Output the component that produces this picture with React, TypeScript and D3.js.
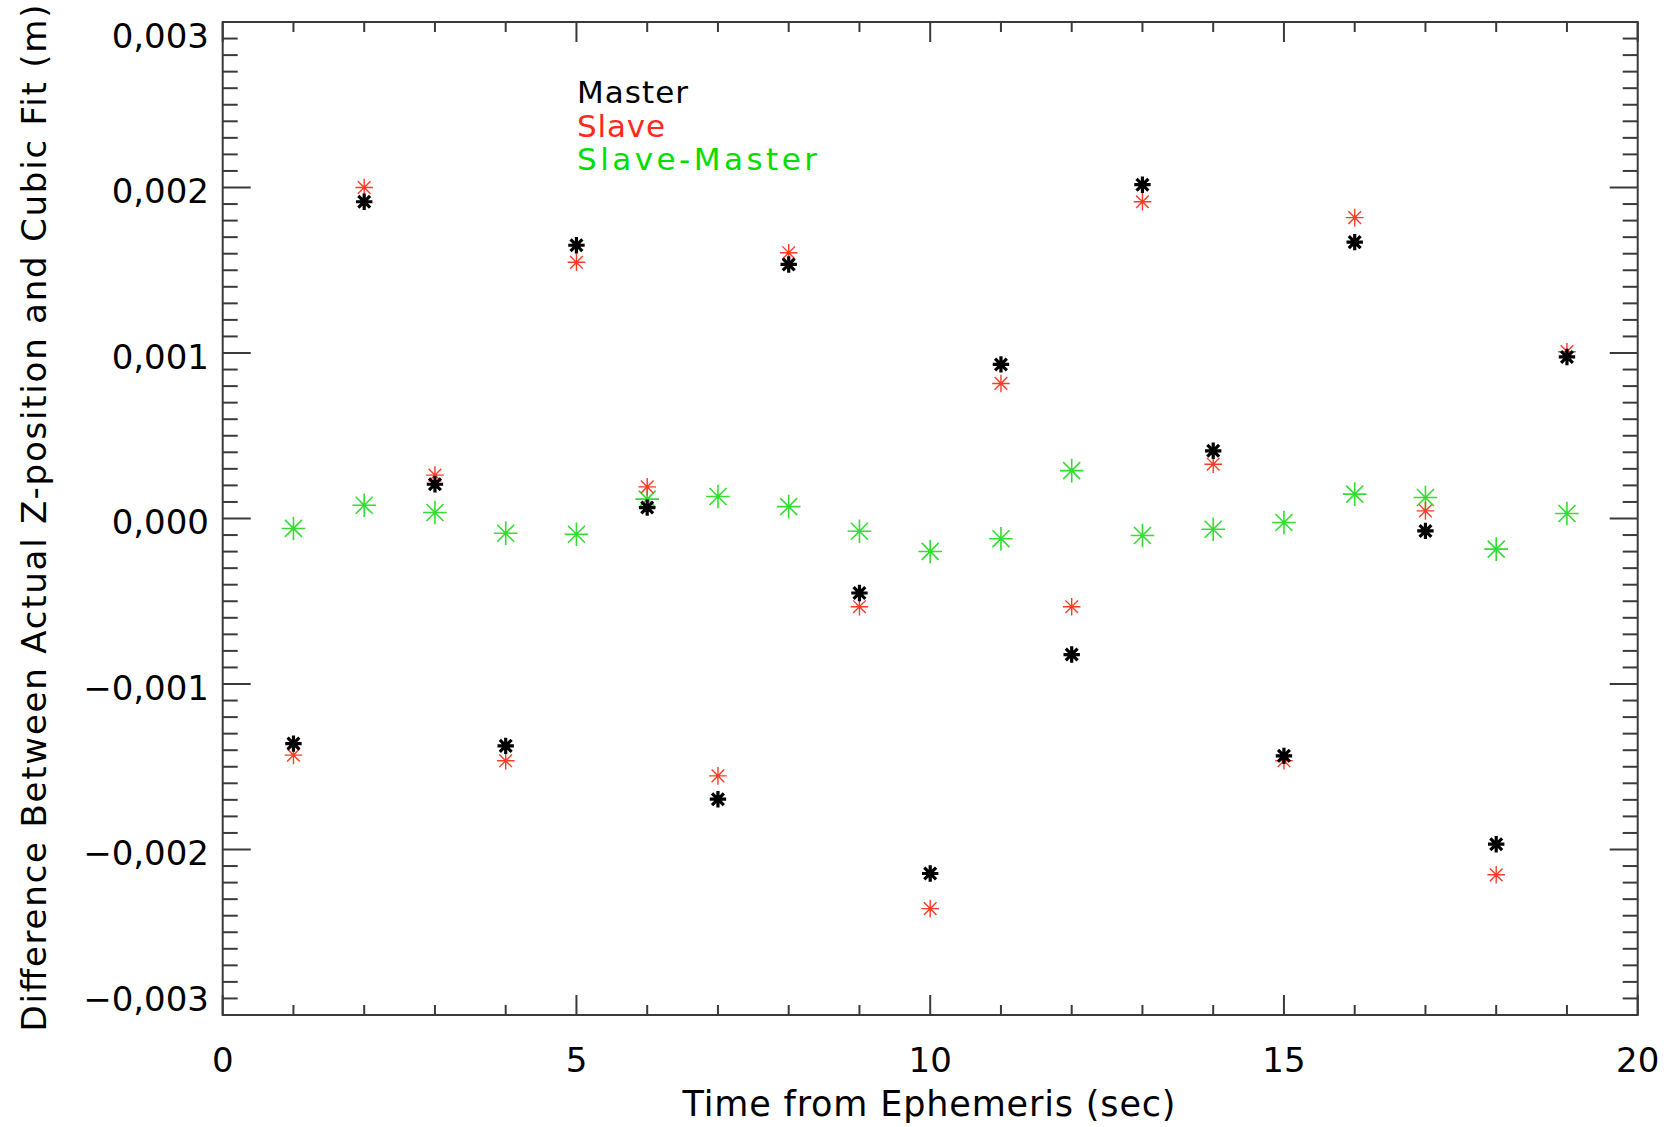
import React from 'react';
import * as d3 from 'd3';

// ---- data (values in metres) ----
const times = [1, 2, 3, 4, 5, 6, 7, 8, 9, 10, 11, 12, 13, 14, 15, 16, 17, 18, 19];
const master = [-0.001360, 0.001914, 0.000207, -0.001374, 0.001651, 0.000066, -0.001696, 0.001535, -0.000450, -0.002145,
  0.000931, -0.000822, 0.002017, 0.000409, -0.001434, 0.001670, -0.000075, -0.001968, 0.000976];
const slave = [-0.001430, 0.002000, 0.000262, -0.001464, 0.001548, 0.000191, -0.001555, 0.001606, -0.000533, -0.002357,
  0.000816, -0.000533, 0.001914, 0.000328, -0.001464, 0.001818, 0.000046, -0.002153, 0.001008];
const slaveMinusMaster = [-0.000060, 0.000080, 0.000036, -0.000089, -0.000095, 0.000117, 0.000133, 0.000072, -0.000077, -0.000199,
  -0.000122, 0.000289, -0.000103, -0.000065, -0.000024, 0.000147, 0.000127, -0.000185, 0.000030];

const xMajorTicks = [0, 5, 10, 15, 20];
const xTickLabels = ['0', '5', '10', '15', '20'];
const yMajorTicks = [-0.003, -0.002, -0.001, 0, 0.001, 0.002, 0.003];
const yTickLabels = ['\u22120,003', '\u22120,002', '\u22120,001', '0,000', '0,001', '0,002', '0,003'];
const legendLabels = ['Master', 'Slave', 'Slave-Master'];
const xTitle = 'Time from Ephemeris (sec)';
const yTitle = 'Difference Between Actual Z-position and Cubic Fit (m)';

const W = 1668;
const H = 1127;
const left = 222.7, right = 1637.7, top = 22, bottom = 1015;
const FONT = '"DejaVu Sans", sans-serif';
const AXIS = '#3a3a3a';

function asterisk(cx: number, cy: number, r: number) {
  const d = r * 0.72;
  return `M${cx - r},${cy}L${cx + r},${cy}M${cx},${cy - r}L${cx},${cy + r}` +
    `M${cx - d},${cy - d}L${cx + d},${cy + d}M${cx - d},${cy + d}L${cx + d},${cy - d}`;
}

export default function App() {
  const x = d3.scaleLinear().domain([0, 20]).range([left, right]);
  const y = d3.scaleLinear().domain([-0.003, 0.003]).range([bottom, top]);

  const xMinor = d3.range(0, 21, 1).filter((v) => v % 5 !== 0);
  const yMinor = d3.range(-30, 31, 1).filter((v) => v % 10 !== 0).map((v) => v / 10000);

  const series = [
    { vals: master, color: '#000000', r: 8.2, sw: 3.2 },
    { vals: slave, color: '#ff3a26', r: 8.8, sw: 1.4 },
    { vals: slaveMinusMaster, color: '#33dd33', r: 11.8, sw: 1.6 },
  ];
  const order = [2, 1, 0];

  const legendColors = ['#000000', '#ff2a1a', '#00dd00'];
  const legendY = [103, 137, 170];
  const legendW = [111, 88, 240];

  return (
    <svg width={W} height={H} style={{ position: 'absolute', left: 0, top: 0, background: '#fff' }}>
      <rect x={0} y={0} width={W} height={H} fill="#fff" />
      <rect x={left} y={top} width={right - left} height={bottom - top} fill="none" stroke={AXIS} strokeWidth={2} />
      {xMajorTicks.map((t) => (
        <g key={'xM' + t}>
          <line x1={x(t)} x2={x(t)} y1={bottom} y2={bottom - 20} stroke={AXIS} strokeWidth={2} />
          <line x1={x(t)} x2={x(t)} y1={top} y2={top + 20} stroke={AXIS} strokeWidth={2} />
        </g>
      ))}
      {xMinor.map((t) => (
        <g key={'xm' + t}>
          <line x1={x(t)} x2={x(t)} y1={bottom} y2={bottom - 10} stroke={AXIS} strokeWidth={2} />
          <line x1={x(t)} x2={x(t)} y1={top} y2={top + 10} stroke={AXIS} strokeWidth={2} />
        </g>
      ))}
      {yMajorTicks.map((t) => (
        <g key={'yM' + t}>
          <line x1={left} x2={left + 28} y1={y(t)} y2={y(t)} stroke={AXIS} strokeWidth={2} />
          <line x1={right} x2={right - 28} y1={y(t)} y2={y(t)} stroke={AXIS} strokeWidth={2} />
        </g>
      ))}
      {yMinor.map((t) => (
        <g key={'ym' + t}>
          <line x1={left} x2={left + 15} y1={y(t)} y2={y(t)} stroke={AXIS} strokeWidth={2} />
          <line x1={right} x2={right - 15} y1={y(t)} y2={y(t)} stroke={AXIS} strokeWidth={2} />
        </g>
      ))}
      {xMajorTicks.map((t, i) => (
        <text key={'xl' + t} x={x(t)} y={1072} textAnchor="middle" fontFamily={FONT} fontSize={34} fill="#000">
          {xTickLabels[i]}
        </text>
      ))}
      {yMajorTicks.map((t, i) => {
        const c = Math.min(Math.max(y(t) + 3, top + 13), bottom - 17);
        return (
          <text key={'yl' + t} x={209} y={c + 12.5} textAnchor="end" fontFamily={FONT} fontSize={34} fill="#000">
            {yTickLabels[i]}
          </text>
        );
      })}
      <text x={929} y={1116} textAnchor="middle" fontFamily={FONT} fontSize={35} fill="#000"
        textLength={493} lengthAdjust="spacing">{xTitle}</text>
      <text transform="translate(46,518) rotate(-90)" textAnchor="middle" fontFamily={FONT} fontSize={34} fill="#000"
        textLength={1027} lengthAdjust="spacing">{yTitle}</text>
      {legendLabels.map((l, i) => (
        <text key={l} x={577} y={legendY[i]} fontFamily={FONT} fontSize={31} fill={legendColors[i]}
          textLength={legendW[i]} lengthAdjust="spacing">{l}</text>
      ))}
      {order.map((si) => {
        const s = series[si];
        return (
          <g key={'s' + si}>
            {s.vals.map((v, i) => (
              <path key={i} d={asterisk(x(times[i]), y(v), s.r)} stroke={s.color} strokeWidth={s.sw}
                fill="none" strokeLinecap="butt" />
            ))}
          </g>
        );
      })}
    </svg>
  );
}
